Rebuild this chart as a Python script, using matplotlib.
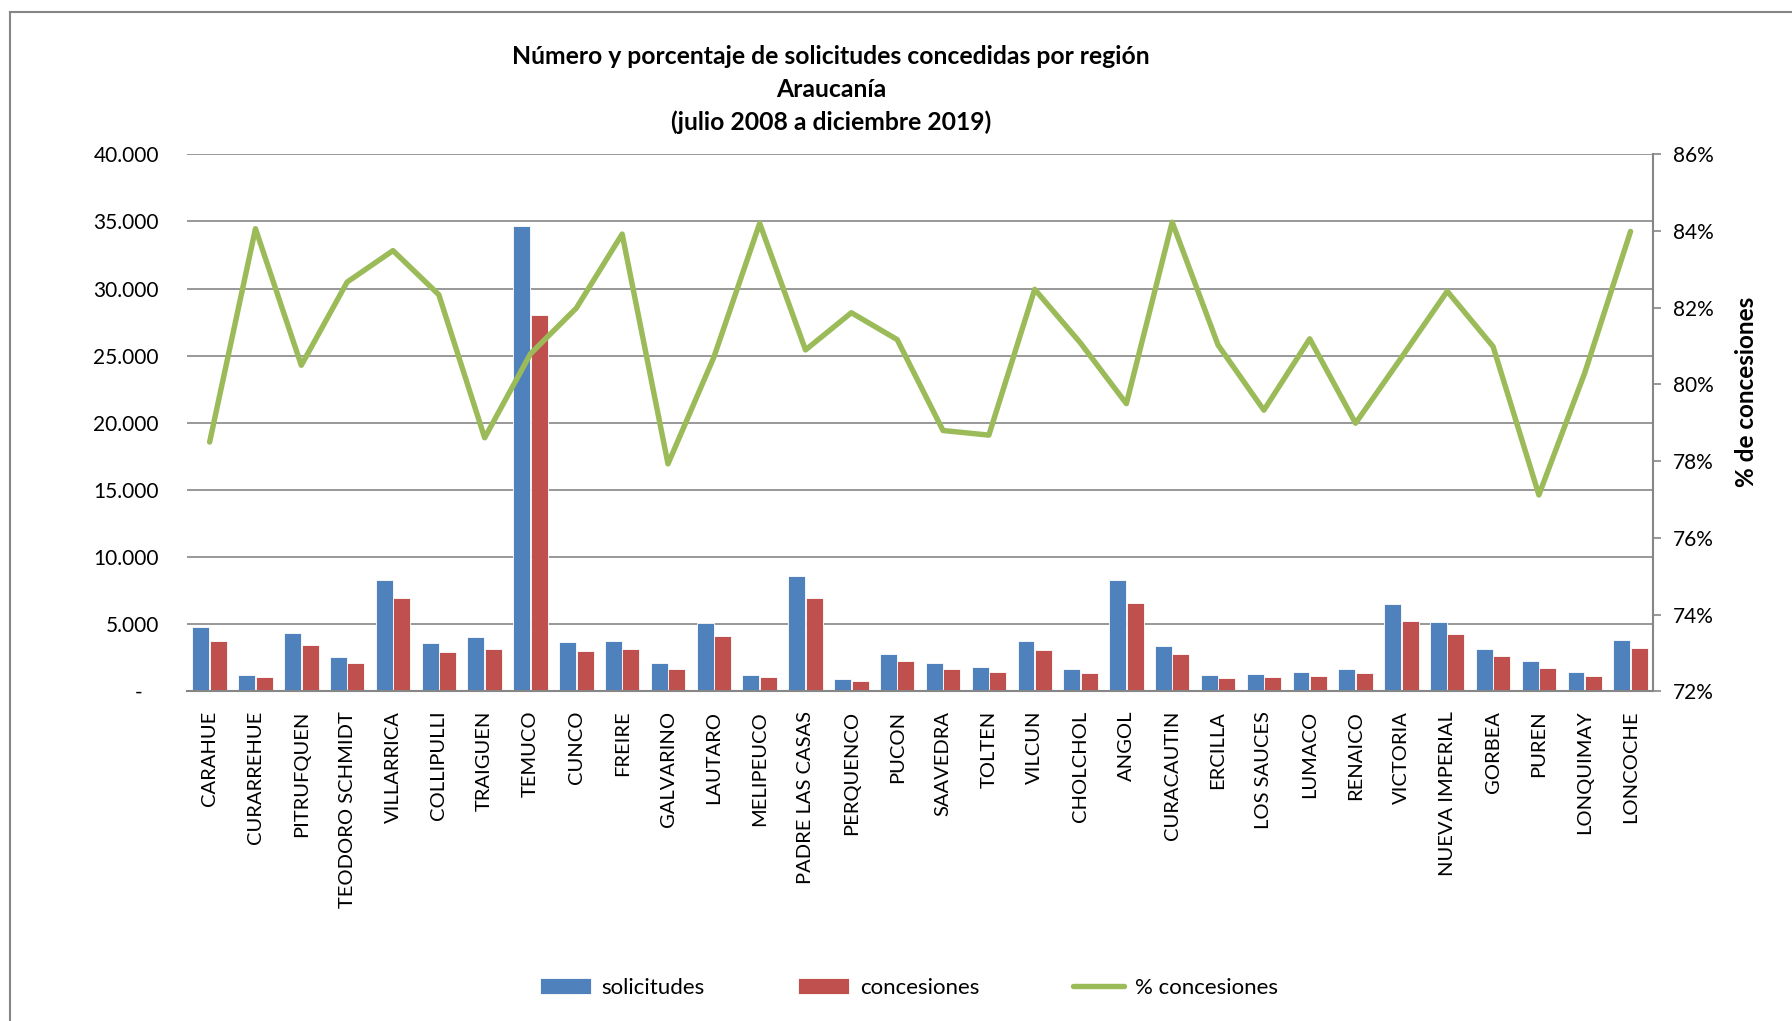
import matplotlib.pyplot as plt
from matplotlib.lines import Line2D
from matplotlib.ticker import FixedLocator, FuncFormatter
import numpy as np

plt.rcParams['font.family'] = ['Lato', 'DejaVu Sans']

comunas = [
    'CARAHUE', 'CURARREHUE', 'PITRUFQUEN', 'TEODORO SCHMIDT', 'VILLARRICA',
    'COLLIPULLI', 'TRAIGUEN', 'TEMUCO', 'CUNCO', 'FREIRE', 'GALVARINO',
    'LAUTARO', 'MELIPEUCO', 'PADRE LAS CASAS', 'PERQUENCO', 'PUCON',
    'SAAVEDRA', 'TOLTEN', 'VILCUN', 'CHOLCHOL', 'ANGOL', 'CURACAUTIN',
    'ERCILLA', 'LOS SAUCES', 'LUMACO', 'RENAICO', 'VICTORIA',
    'NUEVA IMPERIAL', 'GORBEA', 'PUREN', 'LONQUIMAY', 'LONCOCHE',
]

solicitudes = [
    4790, 1250, 4360, 2550, 8320, 3590, 4020, 34630, 3670, 3780, 2130,
    5130, 1250, 8560, 930, 2770, 2130, 1810, 3750, 1700, 8300, 3350,
    1220, 1330, 1460, 1700, 6520, 5190, 3190, 2260, 1460, 3800,
]

concesiones = [
    3750, 1060, 3480, 2130, 6970, 2950, 3170, 28000, 3000, 3190, 1680,
    4120, 1060, 6920, 750, 2260, 1680, 1440, 3090, 1380, 6620, 2820,
    1010, 1060, 1170, 1360, 5270, 4280, 2610, 1780, 1170, 3250,
]

pct_concesiones = [
    78.5, 84.06, 80.5, 82.67, 83.49, 82.34, 78.61, 80.8, 81.99, 83.92, 77.93,
    80.71, 84.2, 80.9, 81.87, 81.17, 78.8, 78.68, 82.48, 81.08, 79.5, 84.23,
    81.03, 79.33, 81.19, 78.99, 80.7, 82.43, 80.99, 77.12, 80.3, 83.99,
]

blue = '#4F81BD'
red = '#C0504D'
green = '#9BBB59'
grey = '#868686'

fig = plt.figure(figsize=(17.92, 10.21), dpi=100)
ax = fig.add_axes([0.1042, 0.3228, 0.8185, 0.5261])

x = np.arange(len(comunas))
w = 0.37
b1 = ax.bar(x - w / 2 - 0.005, solicitudes, w, color=blue, edgecolor='white', linewidth=0.6, label='solicitudes')
b2 = ax.bar(x + w / 2 + 0.005, concesiones, w, color=red, edgecolor='white', linewidth=0.6, label='concesiones')

ax.set_xlim(-0.5, len(comunas) - 0.5)
ax.set_ylim(0, 40000)
ax.yaxis.set_major_locator(FixedLocator(np.arange(0, 40001, 5000)))
ax.yaxis.set_major_formatter(FuncFormatter(
    lambda v, p: '-   ' if v == 0 else f'{int(v):,}'.replace(',', '.')))
ax.set_axisbelow(True)
ax.grid(axis='y', color=grey, linewidth=1.2)
ax.set_xticks(x)
ax.set_xticklabels(comunas, rotation=90, fontsize=14.5)
ax.tick_params(axis='x', length=0, pad=14)
ax.tick_params(axis='y', length=0, pad=20, labelsize=15)
for s in ['left', 'top', 'right']:
    ax.spines[s].set_visible(False)
ax.spines['bottom'].set_color(grey)
ax.spines['bottom'].set_linewidth(1.5)

ax2 = ax.twinx()
ln, = ax2.plot(x, pct_concesiones, color=green, linewidth=3.9,
               solid_joinstyle='round', solid_capstyle='round', label='% concesiones')
ax2.set_ylim(72, 86)
ax2.yaxis.set_major_locator(FixedLocator(np.arange(72, 87, 2)))
ax2.yaxis.set_major_formatter(FuncFormatter(lambda v, p: f'{v:.0f}%'))
ax2.tick_params(axis='y', length=6, width=1.2, color=grey, pad=8, labelsize=15)
for s in ['left', 'top', 'bottom']:
    ax2.spines[s].set_visible(False)
ax2.spines['right'].set_color(grey)
ax2.spines['right'].set_linewidth(1.5)

fig.text(1746 / 1792, 1 - 392 / 1021, '% de concesiones', rotation=90,
         ha='center', va='center', fontsize=17.5, fontweight='bold')

fig.text(831 / 1792, 1 - 57 / 1021, 'Número y porcentaje de solicitudes concedidas por región',
         ha='center', va='center', fontsize=17.8, fontweight='bold')
fig.text(831 / 1792, 1 - 89 / 1021, 'Araucanía',
         ha='center', va='center', fontsize=17.8, fontweight='bold')
fig.text(831 / 1792, 1 - 122 / 1021, '(julio 2008 a diciembre 2019)',
         ha='center', va='center', fontsize=17.8, fontweight='bold')

fig.legend([b1, b2, ln], ['solicitudes', 'concesiones', '% concesiones'],
           loc='center', bbox_to_anchor=(909 / 1792, 1 - 988 / 1021), ncol=3,
           frameon=False, fontsize=16, handlelength=2.3, handleheight=0.75,
           handletextpad=0.5, columnspacing=4.2)

# chart area border (cut off at right and bottom)
fig.add_artist(Line2D([10 / 1792, 1], [1 - 12 / 1021, 1 - 12 / 1021],
                      transform=fig.transFigure, color=grey, linewidth=1.5))
fig.add_artist(Line2D([10 / 1792, 10 / 1792], [0, 1 - 12 / 1021],
                      transform=fig.transFigure, color=grey, linewidth=1.5))

fig.savefig('out.png', dpi=100)
